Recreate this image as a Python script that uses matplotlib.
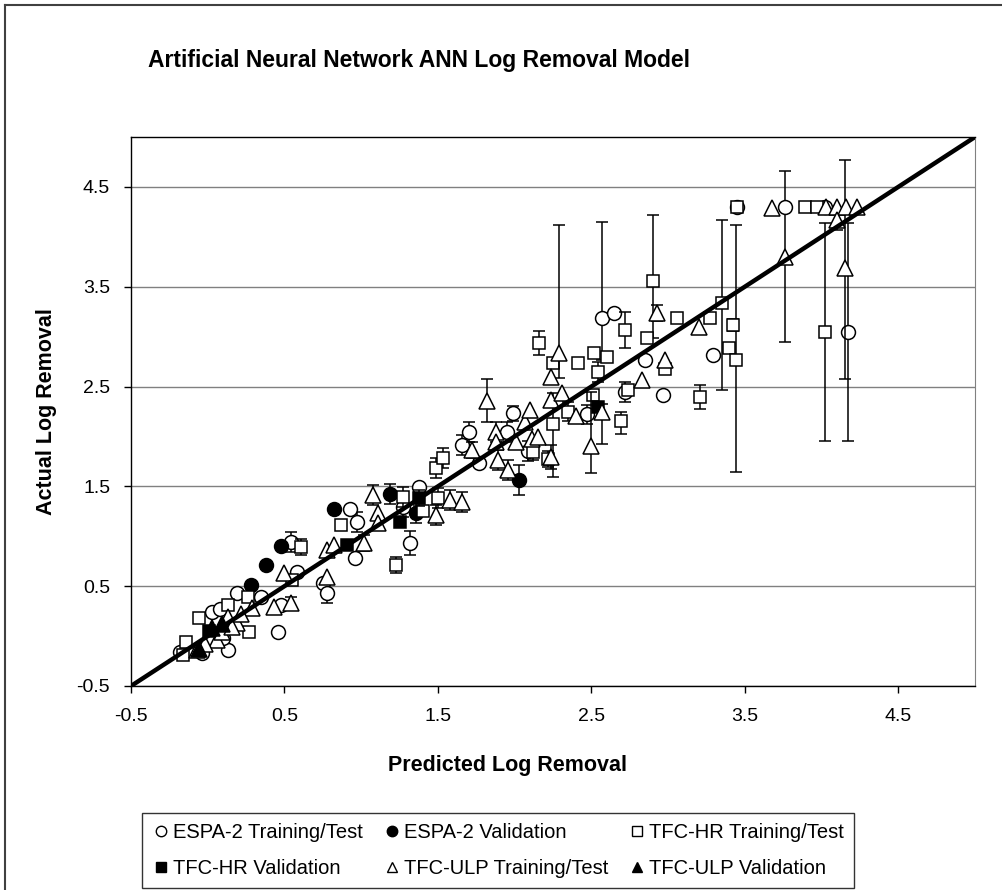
import numpy as np
import matplotlib
matplotlib.use('Agg')
import matplotlib.pyplot as plt
from matplotlib.lines import Line2D

plt.rcParams['font.family'] = ['Liberation Sans', 'DejaVu Sans']

title = 'Artificial Neural Network ANN Log Removal Model'
x_label = 'Predicted Log Removal'
y_label = 'Actual Log Removal'
tick_values = [-0.5, 0.5, 1.5, 2.5, 3.5, 4.5]
series_names = ['ESPA-2 Training/Test', 'ESPA-2 Validation', 'TFC-HR Training/Test',
                'TFC-HR Validation', 'TFC-ULP Training/Test', 'TFC-ULP Validation']

# ESPA-2 training/test (open circles)
espa_tt_x = [-0.18, -0.04, 0.13, 0.10, 0.03, 0.08, 0.19, 0.35, 0.48, 0.46,
             0.54, 0.58, 0.75, 0.78, 0.93, 0.97, 0.96, 1.32, 1.27, 1.38,
             1.66, 1.70, 1.77, 1.95, 1.99, 2.09, 2.47, 2.57, 2.65, 2.72,
             2.85, 2.97, 3.29, 3.45, 3.76, 4.02, 4.17]
espa_tt_y = [-0.16, -0.17, -0.14, -0.02, 0.24, 0.27, 0.43, 0.39, 0.31, 0.04,
             0.94, 0.64, 0.53, 0.43, 1.27, 1.14, 0.78, 0.93, 1.29, 1.49,
             1.91, 2.04, 1.73, 2.04, 2.23, 1.85, 2.22, 3.19, 3.24, 2.45,
             2.77, 2.42, 2.82, 4.30, 4.30, 4.30, 3.05]
espa_tt_lo = [0, 0, 0, 0, 0, 0, 0, 0, 0, 0,
              0.1, 0, 0, 0.1, 0, 0.1, 0, 0.12, 0.1, 0,
              0.1, 0.1, 0, 0.1, 0.08, 0.1, 0.1, 0.42, 0, 0.1,
              0, 0, 0, 0, 1.35, 0, 1.10]
espa_tt_hi = [0, 0, 0, 0, 0, 0, 0, 0, 0, 0,
              0.1, 0, 0, 0.1, 0, 0.1, 0, 0.12, 0.1, 0,
              0.1, 0.1, 0, 0.1, 0.08, 0.1, 0.1, 0.96, 0, 0.1,
              0, 0, 0, 0, 0.36, 0, 1.09]

# ESPA-2 validation (filled circles)
espa_val_x = [0.28, 0.38, 0.48, 0.82, 1.19, 1.36, 2.03]
espa_val_y = [0.51, 0.71, 0.90, 1.27, 1.42, 1.23, 1.56]
espa_val_lo = [0, 0, 0, 0, 0.1, 0.1, 0.15]
espa_val_hi = [0, 0, 0, 0, 0.1, 0.1, 0.15]

# TFC-HR training/test (open squares)
hr_tt_x = [-0.16, -0.14, -0.06, 0.13, 0.26, 0.27, 0.55, 0.61, 0.87, 1.23,
           1.27, 1.40, 1.50, 1.49, 1.53, 2.12, 2.16, 2.22, 2.25, 2.25,
           2.35, 2.41, 2.51, 2.52, 2.54, 2.60, 2.69, 2.72, 2.74, 2.86,
           2.90, 2.98, 3.06, 3.21, 3.27, 3.35, 3.42, 3.40, 3.44, 3.45,
           3.89, 3.97, 4.02]
hr_tt_y = [-0.19, -0.06, 0.18, 0.31, 0.39, 0.04, 0.56, 0.89, 1.11, 0.71,
           1.39, 1.25, 1.38, 1.68, 1.78, 1.84, 2.94, 1.77, 2.74, 2.12,
           2.25, 2.74, 2.42, 2.84, 2.65, 2.80, 2.15, 3.07, 2.47, 2.99,
           3.56, 2.68, 3.19, 2.40, 3.19, 3.34, 3.12, 2.89, 2.77, 4.30,
           4.30, 4.30, 3.05]
hr_tt_lo = [0, 0, 0, 0, 0, 0, 0, 0.08, 0, 0.08,
            0.1, 0, 0.1, 0.1, 0.1, 0.08, 0.12, 0.08, 0, 0.53,
            0.1, 0, 0, 0, 0.1, 0, 0.13, 0.18, 0, 0,
            0.57, 0, 0, 0.12, 0, 0.87, 0.06, 0, 1.13, 0,
            0, 0, 1.10]
hr_tt_hi = [0, 0, 0, 0, 0, 0, 0, 0.08, 0, 0.08,
            0.1, 0, 0.1, 0.1, 0.1, 0.08, 0.12, 0.08, 0, 0.32,
            0.1, 0, 0, 0, 0.1, 0, 0.1, 0.18, 0, 0,
            0.66, 0, 0, 0.12, 0, 0.83, 0.06, 0, 1.35, 0,
            0, 0, 1.09]

# TFC-HR validation (filled squares)
hr_val_x = [0.01, 0.91, 1.25, 1.38, 2.54]
hr_val_y = [0.05, 0.91, 1.14, 1.38, 2.30]
hr_val_lo = [0, 0, 0, 0.08, 0]
hr_val_hi = [0, 0, 0, 0.08, 0]

# TFC-ULP training/test (open triangles)
ulp_tt_x = [-0.07, 0.06, 0.13, 0.19, 0.29, 0.43, 0.54, 0.50, 0.78, 0.78,
            0.82, 1.02, 1.08, 1.11, 1.11, 1.49, 1.58, 1.66, 1.72, 1.82,
            1.88, 1.88, 1.89, 1.96, 2.01, 2.07, 2.10, 2.11, 2.15, 2.24,
            2.24, 2.24, 2.29, 2.31, 2.40, 2.50, 2.57, 2.83, 2.93, 2.98,
            3.20, 3.68, 3.76, 4.03, 4.10, 4.16, 4.23, 4.10, 4.15,
            -0.02, 0.09, 0.16, 0.22]
ulp_tt_y = [-0.14, -0.04, 0.19, 0.13, 0.28, 0.29, 0.33, 0.63, 0.59, 0.86,
            0.91, 0.93, 1.41, 1.23, 1.13, 1.21, 1.36, 1.34, 1.86, 2.36,
            2.04, 1.94, 1.76, 1.66, 1.94, 2.14, 2.27, 1.97, 1.99, 1.79,
            2.37, 2.60, 2.84, 2.44, 2.20, 1.90, 2.25, 2.57, 3.24, 2.77,
            3.10, 4.29, 3.80, 4.30, 4.30, 4.30, 4.30, 4.17, 3.69,
            -0.08, 0.04, 0.09, 0.22]
ulp_tt_lo = [0, 0, 0, 0, 0, 0, 0.06, 0, 0, 0,
             0, 0.08, 0.1, 0, 0, 0.1, 0.1, 0.1, 0.08, 0.22,
             0.1, 0, 0.1, 0.1, 0, 0, 0, 0, 0, 0.12,
             0, 0, 0.25, 0, 0, 0.27, 0.33, 0, 0.08, 0,
             0, 0, 0, 0, 0, 0, 0, 0.1, 1.11,
             0, 0, 0, 0]
ulp_tt_hi = [0, 0, 0, 0, 0, 0, 0.06, 0, 0, 0,
             0, 0.08, 0.1, 0, 0, 0.1, 0.1, 0.1, 0.08, 0.22,
             0.1, 0, 0.1, 0.1, 0, 0, 0, 0, 0, 0.12,
             0, 0, 1.28, 0, 0, 0.55, 0.08, 0, 0.08, 0,
             0, 0, 0, 0, 0, 0, 0, 0.1, 1.08,
             0, 0, 0, 0]

# TFC-ULP validation (filled triangles)
ulp_val_x = [-0.06, 0.03, 0.09]
ulp_val_y = [-0.13, 0.08, 0.12]
ulp_val_lo = [0, 0, 0]
ulp_val_hi = [0, 0, 0]


def draw_series(ax, x, y, lo, hi, marker, size, face):
    x = np.array(x)
    y = np.array(y)
    lo = np.array(lo)
    hi = np.array(hi)
    has_err = (lo > 0) | (hi > 0)
    if has_err.any():
        ax.errorbar(x[has_err], y[has_err], yerr=[lo[has_err], hi[has_err]], fmt='none',
                    ecolor='black', elinewidth=1.1, capsize=4.5, capthick=1.1, zorder=3)
    ax.plot(x, y, linestyle='none', marker=marker, markersize=size,
            markerfacecolor=face, markeredgecolor='black', markeredgewidth=1.1, zorder=3)


fig = plt.figure(figsize=(10.02, 8.90), dpi=100)
ax = fig.add_axes([131 / 1002, 1 - 686 / 890, 844 / 1002, 549 / 890])

draw_series(ax, espa_tt_x, espa_tt_y, espa_tt_lo, espa_tt_hi, 'o', 10, 'white')
draw_series(ax, espa_val_x, espa_val_y, espa_val_lo, espa_val_hi, 'o', 10, 'black')
draw_series(ax, hr_tt_x, hr_tt_y, hr_tt_lo, hr_tt_hi, 's', 9, 'white')
draw_series(ax, hr_val_x, hr_val_y, hr_val_lo, hr_val_hi, 's', 9, 'black')
draw_series(ax, ulp_tt_x, ulp_tt_y, ulp_tt_lo, ulp_tt_hi, '^', 11, 'white')
draw_series(ax, ulp_val_x, ulp_val_y, ulp_val_lo, ulp_val_hi, '^', 11, 'black')

# 1:1 line
ax.plot([-0.5, 5.0], [-0.5, 5.0], color='black', linewidth=3.2, zorder=10)

ax.set_xlim(-0.5, 5.0)
ax.set_ylim(-0.5, 5.0)
ax.set_xticks(tick_values)
ax.set_yticks(tick_values)
ax.set_xticklabels([str(v) for v in tick_values])
ax.set_yticklabels([str(v) for v in tick_values])
ax.tick_params(direction='out', length=5, width=1, labelsize=14, pad=11)
ax.tick_params(axis='y', pad=10)
ax.yaxis.grid(True, color='#808080', linewidth=1)
ax.set_axisbelow(True)
for side in ['left', 'bottom', 'top']:
    ax.spines[side].set_color('black')
    ax.spines[side].set_linewidth(1)
ax.spines['right'].set_color('#808080')

fig.text(148 / 1002, 1 - 60 / 890, title, fontsize=16.5, fontweight='bold', va='center')
fig.text(507 / 1002, 1 - 765 / 890, x_label, fontsize=15.5, fontweight='bold', ha='center', va='center')
fig.text(47 / 1002, 1 - 412 / 890, y_label, fontsize=15.5, fontweight='bold', ha='center', va='center',
         rotation=90)

# outer chart border
fig.add_artist(Line2D([5 / 1002, 5 / 1002], [0, 1 - 5 / 890], color='#404040', linewidth=1.5))
fig.add_artist(Line2D([5 / 1002, 1], [1 - 5 / 890, 1 - 5 / 890], color='#404040', linewidth=1.5))

markers = ['o', 'o', 's', 's', '^', '^']
faces = ['white', 'black', 'white', 'black', 'white', 'black']
handles = [Line2D([], [], linestyle='none', marker=m, markersize=7.5, markerfacecolor=f,
                  markeredgecolor='black', markeredgewidth=1) for m, f in zip(markers, faces)]
order = [0, 3, 1, 4, 2, 5]
leg = fig.legend([handles[i] for i in order], [series_names[i] for i in order], ncol=3,
                 loc='lower left', bbox_to_anchor=(142 / 1002, 2 / 890, 712 / 1002, 82 / 890),
                 mode='expand', frameon=True, fancybox=False, edgecolor='black', fontsize=14.5,
                 handletextpad=0.15, handlelength=0.9, borderaxespad=0, borderpad=0.5,
                 labelspacing=0.85)
leg.get_frame().set_linewidth(1)

fig.savefig('out.png', dpi=100)
